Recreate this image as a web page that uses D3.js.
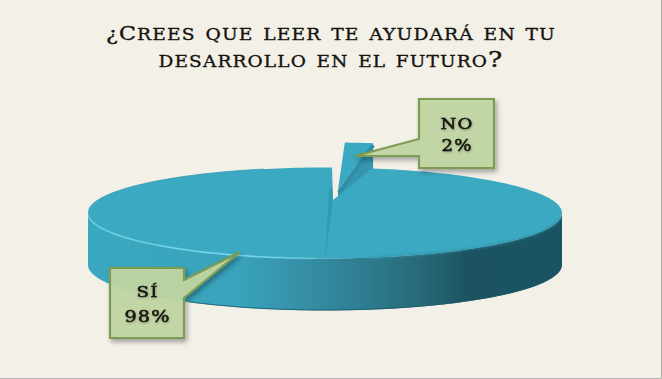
<!DOCTYPE html>
<html lang="es">
<head>
<meta charset="utf-8">
<script src="https://cdn.jsdelivr.net/npm/d3@7"></script>
<style>
  html, body { margin: 0; padding: 0; background: #f3f0e8; }
  svg { display: block; }
  text { font-family: "DejaVu Serif", serif; fill: #15140f; stroke: #15140f; stroke-width: 0.35; }
</style>
</head>
<body>
<svg id="chart" width="662" height="379"></svg>
<script>
// chart values
const labels = ["No", "Sí"];
const values = [2, 98];
const titleLines = ["¿Crees que leer te ayudará en tu", "desarrollo en el futuro?"];

const width = 662, height = 379;
const svg = d3.select("#chart");
const defs = svg.append("defs");

// background + thin frame of the slide
svg.append("rect").attr("width", width).attr("height", height).attr("fill", "#f3f0e8");
svg.append("path").attr("d", `M${width - 0.5},0V${height - 0.5}H0`)
  .attr("fill", "none").attr("stroke", "#b5b3ad");

// pie geometry (ellipse on screen)
const cx = 325, cy = 213, rx = 237, ry = 45.5, depth = 52;
const apex = [333, 200];        // perspective moves the centre up from the ellipse centre
const noApex = [338, 190];
const lift = [7, -25];          // how far the "No" slice is pulled out

const pie = d3.pie().sort(null)(values);
const rad = d => d * Math.PI / 180;

// the 3D view stretches the small slice, so pie angle -> ellipse angle is not linear
const rimAngle = d3.scaleLinear()
  .domain([0, pie[0].endAngle, 2 * Math.PI])
  .range([rad(1.7), rad(11.4), rad(361.7)]);
const noRimAngle = d3.scaleLinear()
  .domain([pie[0].startAngle, pie[0].endAngle])
  .range([rad(3.1), rad(10)]);

const rimPoint = t => [cx + rx * Math.sin(t), cy - ry * Math.cos(t)];
const sampleRim = (a0, a1, n) => d3.range(n + 1).map(i => a0 + (a1 - a0) * i / n);
const line = d3.line();

// wall gradient, light on the left going dark on the right
const wallGrad = defs.append("linearGradient").attr("id", "wall")
  .attr("gradientUnits", "userSpaceOnUse")
  .attr("x1", cx - rx).attr("x2", cx + rx).attr("y1", 0).attr("y2", 0);
[[0, "#3aa8c0"], [0.32, "#39a3bb"], [0.45, "#3590a7"], [0.57, "#2f7f92"], [0.74, "#24626f"], [0.8, "#1b5361"], [1, "#1a5462"]]
  .forEach(s => wallGrad.append("stop").attr("offset", s[0]).attr("stop-color", s[1]));

const hiGrad = defs.append("linearGradient").attr("id", "rimLight")
  .attr("gradientUnits", "userSpaceOnUse")
  .attr("x1", 90).attr("x2", 335).attr("y1", 0).attr("y2", 0);
[[0, "#74d8ea", 0.7], [0.6, "#74d8ea", 0.95], [0.85, "#74d8ea", 0.7], [1, "#74d8ea", 0]]
  .forEach(s => hiGrad.append("stop").attr("offset", s[0]).attr("stop-color", s[1]).attr("stop-opacity", s[2]));

const soft = defs.append("filter").attr("id", "soft")
  .attr("x", "-10%").attr("y", "-50%").attr("width", "120%").attr("height", "200%");
soft.append("feGaussianBlur").attr("stdDeviation", 0.8);

const boxShadow = defs.append("filter").attr("id", "boxShadow")
  .attr("x", "-20%").attr("y", "-20%").attr("width", "150%").attr("height", "150%");
boxShadow.append("feDropShadow")
  .attr("dx", 2).attr("dy", 3).attr("stdDeviation", 2.5)
  .attr("flood-color", "#000").attr("flood-opacity", 0.35);

const textShadow = defs.append("filter").attr("id", "textShadow")
  .attr("x", "-10%").attr("y", "-20%").attr("width", "120%").attr("height", "150%");
textShadow.append("feDropShadow")
  .attr("dx", 0.5).attr("dy", 1).attr("stdDeviation", 1)
  .attr("flood-color", "#000").attr("flood-opacity", 0.3);

// "No" slice, pulled out: drawn first so the big slice covers its lower part
const noG = svg.append("g");
const noTop = sampleRim(noRimAngle(pie[0].startAngle), noRimAngle(pie[0].endAngle), 12)
  .map(rimPoint).map(p => [p[0] + lift[0], p[1] + lift[1]]);
const noRight = noTop[noTop.length - 1];
noG.append("path")
  .attr("d", line([noApex, noRight, [noRight[0], noRight[1] + depth], [noApex[0], noApex[1] + depth]]) + "Z")
  .attr("fill", "#3596ad");
noG.append("path")
  .attr("d", line([noApex, ...noTop]) + "Z")
  .attr("fill", "#3ba9c1");
noG.append("path")
  .attr("d", line([[noRight[0], noRight[1] + 2], [noApex[0] + 1, noApex[1] + 3]]))
  .attr("stroke", "#2f8ea5").attr("stroke-width", 4).attr("fill", "none");

// "Sí" slice: wall first, then top
const mainG = svg.append("g");
const front = sampleRim(rad(90), rad(270), 120).map(rimPoint);
const bottom = front.map(p => [p[0], p[1] + depth]);
mainG.append("path")
  .attr("d", line(front) + "L" + line(bottom.slice().reverse()).slice(1) + "Z")
  .attr("fill", "url(#wall)");
// dark line under the wall
mainG.append("path")
  .attr("d", line(sampleRim(rad(110), rad(215), 80).map(rimPoint).map(p => [p[0], p[1] + depth - 0.5])))
  .attr("fill", "none").attr("stroke", "#1d5a69").attr("stroke-width", 1).attr("stroke-opacity", 0.8);

const mainRim = sampleRim(rimAngle(pie[1].startAngle), rimAngle(pie[1].endAngle), 240).map(rimPoint);
mainG.append("path")
  .attr("d", line([apex, ...mainRim]) + "Z")
  .attr("fill", "#3ba9c1");

// darker band where the cut runs down to the front edge, comes to a point at both ends
const bandBottom = rimPoint(rad(180));
mainG.append("path")
  .attr("d", line([apex, [apex[0] - 1, apex[1] - 14], [apex[0] - 4, apex[1] - 9], [bandBottom[0], bandBottom[1] + 1]]) + "Z")
  .attr("fill", "#3499b1");

// light line along the front rim on the left
mainG.append("path")
  .attr("d", line(sampleRim(rad(182), rad(268), 70).map(rimPoint)))
  .attr("fill", "none").attr("stroke", "url(#rimLight)").attr("stroke-width", 1.7);
// soft shaded edge where top meets the dark wall on the right
mainG.append("path")
  .attr("d", line(sampleRim(rad(95), rad(170), 50).map(rimPoint)))
  .attr("fill", "none").attr("stroke", "#2f8ea5").attr("stroke-width", 1.4).attr("filter", "url(#soft)");
// faint edge on the back left
mainG.append("path")
  .attr("d", line(sampleRim(rad(275), rad(345), 50).map(rimPoint)))
  .attr("fill", "none").attr("stroke", "#3094ab").attr("stroke-width", 1).attr("stroke-opacity", 0.7);

// title: first capital is set apart, the rest as small capitals, stretched wide
const titleG = svg.append("g");
const titleWidths = [450, 345];
titleLines.forEach((d, i) => {
  const t = titleG.append("text")
    .attr("x", 331 - titleWidths[i] / 2)
    .attr("y", 39.5 + i * 27.5)
    .attr("textLength", titleWidths[i])
    .attr("lengthAdjust", "spacingAndGlyphs")
    .attr("font-size", 23)
    .attr("letter-spacing", 1)
    .style("font-variant", "small-caps");
  if (d.startsWith("¿C")) {
    t.append("tspan").attr("font-size", 19).text("¿C");
    t.append("tspan").text(d.slice(2));
  } else {
    t.text(d);
  }
});

// callouts
const callouts = [
  { box: [419, 99, 75, 69], tip: [355, 156], base: [139, 156], side: "left", text: [129, 151], fit: [33, 31] },
  { box: [110, 268, 74, 70], tip: [240, 252], base: [280, 298], side: "right", text: [297, 322], fit: [22, 46] }
];
const calloutG = svg.append("g");
callouts.forEach((c, i) => {
  const [x, y, w, h] = c.box;
  const pts = c.side === "left"
    ? [[x, y], [x + w, y], [x + w, y + h], [x, y + h], [x, c.base[1]], c.tip, [x, c.base[0]]]
    : [[x, y], [x + w, y], [x + w, c.base[0]], c.tip, [x + w, c.base[1]], [x + w, y + h], [x, y + h]];
  calloutG.append("path")
    .attr("d", line(pts) + "Z")
    .attr("fill", "#c2d6a2").attr("fill-opacity", 0.93)
    .attr("stroke", "#7e9b52").attr("stroke-width", 2.2)
    .attr("filter", "url(#boxShadow)");
  const lines = [labels[i].toUpperCase(), values[i] + "%"];
  calloutG.selectAll(null).data(lines).join("text")
    .attr("x", (d, j) => x + w / 2 + 0.5 - c.fit[j] / 2)
    .attr("y", (d, j) => c.text[j])
    .attr("textLength", (d, j) => c.fit[j])
    .attr("lengthAdjust", "spacingAndGlyphs")
    .attr("font-size", (d, j) => j === 0 ? 15.5 : 17)
    .attr("letter-spacing", 1)
    .style("stroke-width", 0.5)
    .attr("filter", "url(#textShadow)")
    .text(d => d);
});
</script>
</body>
</html>
